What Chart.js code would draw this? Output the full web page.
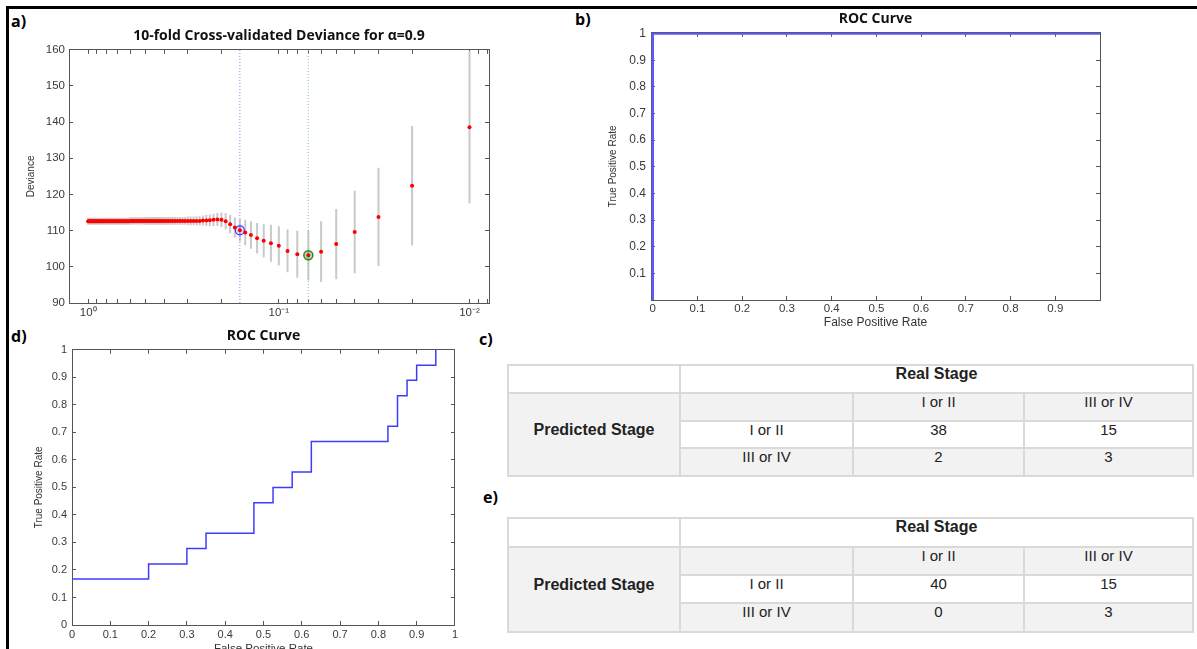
<!DOCTYPE html>
<html>
<head>
<meta charset="utf-8">
<script src="https://cdn.jsdelivr.net/npm/chart.js@4.4.1/dist/chart.umd.min.js"></script>
<style>
  html, body { margin: 0; padding: 0; background: #fff; }
  body { width: 1197px; height: 649px; overflow: hidden; position: relative; font-family: "Liberation Sans", Arial, sans-serif; }
  .frame-top { position: absolute; left: 6px; top: 6px; width: 1191px; height: 3px; background: #000; }
  .frame-left { position: absolute; left: 6px; top: 6px; width: 3px; height: 643px; background: #000; }
  .lbl { position: absolute; font: bold 16px "Open Sans", sans-serif; color: #000; line-height: 22px; }
  canvas { position: absolute; }
  .tbl { position: absolute; display: grid; gap: 2px; padding: 2px; background: #d9d9d9;
         grid-template-columns: 170px 171px 169px 167px; }
  .tbl div { background: #fff; text-align: center; font-size: 15px; line-height: 15px; color: #222; }
  .tbl .g { background: #f2f2f2; }
  .tbl .b { font-weight: bold; font-size: 16px; }
  .tbl .side { display: flex; align-items: center; justify-content: center; padding-bottom: 11px; }
</style>
</head>
<body>
<div class="frame-top"></div>
<div class="frame-left"></div>

<div class="lbl" style="left:11px;top:10px">a)</div>
<div class="lbl" style="left:575px;top:8px">b)</div>
<div class="lbl" style="left:479px;top:328px">c)</div>
<div class="lbl" style="left:11px;top:325px">d)</div>
<div class="lbl" style="left:483px;top:486px">e)</div>

<canvas id="cvChart" width="485" height="296" style="left:10px;top:24px"></canvas>
<canvas id="rocB" width="508" height="322" style="left:598px;top:8px"></canvas>
<canvas id="rocD" width="455" height="338" style="left:10px;top:322px"></canvas>

<div class="tbl" id="tableC" style="left:507px;top:364px;grid-template-rows:26px 26px 25px 26px"></div>
<div class="tbl" id="tableE" style="left:507px;top:517px;grid-template-rows:27px 26px 26px 27px"></div>

<script>
// a) cross-validated deviance, lambda = 0.01 ... 1.00
const lambda = [
  0.01, 0.02, 0.03, 0.04, 0.05, 0.06, 0.07, 0.08, 0.09, 0.10,
  0.11, 0.12, 0.13, 0.14, 0.15, 0.16, 0.17, 0.18, 0.19, 0.20,
  0.21, 0.22, 0.23, 0.24, 0.25, 0.26, 0.27, 0.28, 0.29, 0.30,
  0.31, 0.32, 0.33, 0.34, 0.35, 0.36, 0.37, 0.38, 0.39, 0.40,
  0.41, 0.42, 0.43, 0.44, 0.45, 0.46, 0.47, 0.48, 0.49, 0.50,
  0.51, 0.52, 0.53, 0.54, 0.55, 0.56, 0.57, 0.58, 0.59, 0.60,
  0.61, 0.62, 0.63, 0.64, 0.65, 0.66, 0.67, 0.68, 0.69, 0.70,
  0.71, 0.72, 0.73, 0.74, 0.75, 0.76, 0.77, 0.78, 0.79, 0.80,
  0.81, 0.82, 0.83, 0.84, 0.85, 0.86, 0.87, 0.88, 0.89, 0.90,
  0.91, 0.92, 0.93, 0.94, 0.95, 0.96, 0.97, 0.98, 0.99, 1.00
];
const deviance = [
  138.6, 122.4, 113.8, 109.6, 106.3, 104.2, 103.2, 103.5, 104.4, 105.8,
  106.5, 107.2, 107.9, 108.8, 109.5, 110.1, 110.9, 111.8, 112.6, 113.0,
  113.1, 113.0, 112.9, 112.8, 112.8, 112.7, 112.7, 112.7, 112.7, 112.7,
  112.7, 112.7, 112.7, 112.7, 112.7, 112.7, 112.7, 112.7, 112.7, 112.7,
  112.7, 112.7, 112.7, 112.7, 112.7, 112.7, 112.7, 112.7, 112.7, 112.7,
  112.7, 112.7, 112.7, 112.7, 112.7, 112.7, 112.7, 112.7, 112.7, 112.7,
  112.6, 112.6, 112.6, 112.6, 112.6, 112.6, 112.6, 112.6, 112.6, 112.6,
  112.6, 112.6, 112.6, 112.6, 112.6, 112.6, 112.6, 112.6, 112.6, 112.6,
  112.6, 112.6, 112.6, 112.6, 112.6, 112.6, 112.6, 112.6, 112.6, 112.6,
  112.6, 112.6, 112.6, 112.6, 112.6, 112.6, 112.6, 112.6, 112.6, 112.6
];
const stdErr = [
  21.1, 16.5, 13.6, 11.4, 9.7, 8.4, 7.0, 6.5, 5.9, 5.4,
  5.1, 4.6, 4.2, 3.8, 3.5, 3.1, 2.8, 2.5, 2.2, 2.0,
  1.8, 1.7, 1.6, 1.5, 1.4, 1.3, 1.3, 1.2, 1.2, 1.2,
  1.1, 1.1, 1.1, 1.1, 1.1, 1.1, 1.1, 1.1, 1.1, 1.1,
  1.1, 1.1, 1.1, 1.1, 1.1, 1.1, 1.1, 1.1, 1.1, 1.1,
  1.0, 1.0, 1.0, 1.0, 1.0, 1.0, 1.0, 1.0, 1.0, 1.0,
  1.0, 1.0, 1.0, 1.0, 1.0, 1.0, 1.0, 1.0, 1.0, 1.0,
  1.0, 1.0, 1.0, 1.0, 1.0, 1.0, 1.0, 1.0, 1.0, 1.0,
  1.0, 1.0, 1.0, 1.0, 1.0, 1.0, 1.0, 1.0, 1.0, 1.0,
  1.0, 1.0, 1.0, 1.0, 1.0, 1.0, 1.0, 1.0, 1.0, 1.0
];
const lambdaMinDev = 0.07;
const lambda1SE = 0.16;
const devTicks = [90, 100, 110, 120, 130, 140, 150, 160];
const lambdaTicks = [1, 0.9, 0.8, 0.7, 0.6, 0.5, 0.4, 0.3, 0.2,
  0.1, 0.09, 0.08, 0.07, 0.06, 0.05, 0.04, 0.03, 0.02, 0.01, 0.009, 0.008];
const lambdaTickLabels = { '1': '10\u2070', '0.1': '10\u207B\u00B9', '0.01': '10\u207B\u00B2' };

// b) and d) ROC curves
const fprB = [0, 0, 1];
const tprB = [0, 1, 1];
const fprD = [0, 0.2, 0.3, 0.35, 0.475, 0.525, 0.575, 0.625, 0.825, 0.85, 0.875, 0.9, 0.95];
const tprD = [0.167, 0.222, 0.278, 0.333, 0.444, 0.5, 0.556, 0.667, 0.722, 0.833, 0.889, 0.944, 1];
const rocTicksB_x = [0, 0.1, 0.2, 0.3, 0.4, 0.5, 0.6, 0.7, 0.8, 0.9];
const rocTicksB_y = [0.1, 0.2, 0.3, 0.4, 0.5, 0.6, 0.7, 0.8, 0.9, 1];
const rocTicksD = [0, 0.1, 0.2, 0.3, 0.4, 0.5, 0.6, 0.7, 0.8, 0.9, 1];

// c) and e) confusion tables
const stages = ['I or II', 'III or IV'];
const confusionC = [[38, 15], [2, 3]];
const confusionE = [[40, 15], [0, 3]];

const axisColor = '#555';
const tickColor = '#3a3a3a';
const fontFamily = '"Liberation Sans", Arial, sans-serif';

function setTicks(list) {
  return scale => { scale.ticks = list.map(v => ({ value: v })); };
}
function rocLabel(v) { return String(Math.round(v * 10) / 10); }

// axis with inward tick marks (MATLAB box style)
function boxAxis(pos, size, ticks, extra) {
  const horizontal = pos === 'top' || pos === 'bottom';
  const ax = {
    position: pos,
    afterBuildTicks: setTicks(ticks),
    afterFit: s => { if (horizontal) s.height = size; else s.width = size; },
    grid: { drawOnChartArea: false, tickLength: -4, color: axisColor },
    border: { color: axisColor },
    ticks: { display: false, autoSkip: false, maxRotation: 0 }
  };
  return Object.assign(ax, extra);
}

const baseOptions = {
  responsive: false,
  animation: false,
  events: [],
  plugins: { legend: { display: false }, tooltip: { enabled: false } }
};

// ---- a) deviance ----
const errorBars = [];
lambda.forEach((l, i) => {
  errorBars.push({ x: l, y: deviance[i] - stdErr[i] });
  errorBars.push({ x: l, y: deviance[i] + stdErr[i] });
  errorBars.push({ x: l, y: null });
});
const iMin = lambda.indexOf(lambdaMinDev);
const i1SE = lambda.indexOf(lambda1SE);
const logScale = { type: 'logarithmic', reverse: true, min: 0.0079, max: 1.26 };
const smallFont = { family: fontFamily, size: 11.5 };

new Chart(document.getElementById('cvChart'), {
  type: 'scatter',
  data: {
    datasets: [
      { data: lambda.map((l, i) => ({ x: l, y: deviance[i] })), backgroundColor: '#ff0000', borderWidth: 0, pointRadius: 2 },
      { data: [{ x: lambdaMinDev, y: deviance[iMin] }], pointRadius: 4.5, borderColor: '#2a8a2a', borderWidth: 1.5, backgroundColor: 'rgba(40,150,40,0.35)' },
      { data: [{ x: lambda1SE, y: deviance[i1SE] }], pointRadius: 4.5, borderColor: '#3a3aff', borderWidth: 1.2, backgroundColor: 'rgba(60,60,255,0.15)' },
      { data: [{ x: lambdaMinDev, y: 90 }, { x: lambdaMinDev, y: 160 }], showLine: true, pointRadius: 0, borderColor: '#7fd67f', borderWidth: 1, borderDash: [1, 2] },
      { data: [{ x: lambda1SE, y: 90 }, { x: lambda1SE, y: 160 }], showLine: true, pointRadius: 0, borderColor: '#8c8cff', borderWidth: 1, borderDash: [1, 2] },
      { data: errorBars, showLine: true, spanGaps: false, pointRadius: 0, borderColor: '#c9c9c9', borderWidth: 2 }
    ]
  },
  options: {
    ...baseOptions,
    plugins: {
      ...baseOptions.plugins,
      title: {
        display: true, fullSize: false,
        text: '10-fold Cross-validated Deviance for \u03B1=0.9',
        color: '#111', font: { family: '"Open Sans", sans-serif', size: 14, weight: 'bold' },
        padding: { top: 4, bottom: 5 }
      }
    },
    scales: {
      x: boxAxis('bottom', 17, lambdaTicks, {
        ...logScale,
        ticks: { display: true, autoSkip: false, maxRotation: 0, padding: 7, color: tickColor, font: smallFont,
                 callback: v => lambdaTickLabels[String(+v.toPrecision(3))] || '' }
      }),
      xT: boxAxis('top', 0, lambdaTicks, { ...logScale }),
      y: boxAxis('left', 59, devTicks, {
        min: 90, max: 160,
        ticks: { display: true, autoSkip: false, padding: 8, color: tickColor, font: smallFont },
        title: { display: true, text: 'Deviance', color: '#333', font: { family: fontFamily, size: 10 }, padding: { top: 15.7 } }
      }),
      yR: boxAxis('right', 5, devTicks, { min: 90, max: 160 })
    }
  }
});

// ---- ROC charts ----
function rocChart(id, fpr, tpr, cfg) {
  new Chart(document.getElementById(id), {
    type: 'scatter',
    data: {
      datasets: [{
        data: fpr.map((x, i) => ({ x: x, y: tpr[i] })),
        showLine: true, stepped: cfg.stepped, pointRadius: 0,
        borderColor: cfg.lineColor, borderWidth: cfg.lineWidth
      }]
    },
    options: {
      ...baseOptions,
      plugins: {
        ...baseOptions.plugins,
        title: {
          display: true, fullSize: false, text: 'ROC Curve', color: '#111',
          font: { family: '"Open Sans", sans-serif', size: 14, weight: 'bold' },
          padding: cfg.titlePad
        }
      },
      scales: {
        x: boxAxis('bottom', cfg.bottom, cfg.xTicks, {
          min: cfg.xMin, max: 1,
          ticks: { display: true, autoSkip: false, maxRotation: 0, padding: cfg.xPad, color: tickColor,
                   font: { family: fontFamily, size: cfg.xFont }, callback: rocLabel },
          title: { display: true, text: 'False Positive Rate', color: '#333',
                   font: { family: fontFamily, size: cfg.xTitleFont }, padding: { top: 0, bottom: cfg.xTitlePad } }
        }),
        xT: boxAxis('top', 0, cfg.xTicks, { min: cfg.xMin, max: 1 }),
        y: boxAxis('left', cfg.left, cfg.yTicks, {
          min: 0, max: cfg.yMax,
          ticks: { display: true, autoSkip: false, padding: 9, color: tickColor,
                   font: { family: fontFamily, size: cfg.yFont }, callback: rocLabel },
          title: { display: true, text: 'True Positive Rate', color: '#333',
                   font: { family: fontFamily, size: 10 }, padding: { top: cfg.yTitlePad } }
        }),
        yR: boxAxis('right', 6, cfg.yTicks, { min: 0, max: cfg.yMax })
      }
    }
  });
}

rocChart('rocB', fprB, tprB, {
  stepped: false, lineColor: '#5a5aff', lineWidth: 2.5, xMin: -0.004, yMax: 1.003,
  titlePad: { top: 3, bottom: 5 }, bottom: 30, left: 53,
  xTicks: rocTicksB_x, yTicks: rocTicksB_y,
  xPad: 6, xFont: 11.5, yFont: 12, xTitleFont: 12, xTitlePad: 0, yTitlePad: 9
});
rocChart('rocD', fprD, tprD, {
  stepped: true, lineColor: '#3c3cff', lineWidth: 1.5, xMin: 0, yMax: 1,
  titlePad: { top: 6, bottom: 5 }, bottom: 35, left: 62,
  xTicks: rocTicksD, yTicks: rocTicksD,
  xPad: 7, xFont: 11, yFont: 11, xTitleFont: 11.5, xTitlePad: 4, yTitlePad: 23
});

// ---- confusion tables ----
function buildTable(id, counts) {
  const cells = [];
  cells.push('<div style="grid-column:1;grid-row:1"></div>');
  cells.push('<div class="b" style="grid-column:2/5;grid-row:1">Real Stage</div>');
  cells.push('<div class="g b side" style="grid-column:1;grid-row:2/5">Predicted Stage</div>');
  cells.push('<div class="g" style="grid-column:2;grid-row:2"></div>');
  stages.forEach((s, j) => cells.push('<div class="g" style="grid-column:' + (3 + j) + ';grid-row:2">' + s + '</div>'));
  stages.forEach((s, i) => {
    const cls = i === 1 ? 'g' : '';
    cells.push('<div class="' + cls + '" style="grid-column:2;grid-row:' + (3 + i) + '">' + s + '</div>');
    counts[i].forEach((v, j) => cells.push('<div class="' + cls + '" style="grid-column:' + (3 + j) + ';grid-row:' + (3 + i) + '">' + v + '</div>'));
  });
  document.getElementById(id).innerHTML = cells.join('');
}
buildTable('tableC', confusionC);
buildTable('tableE', confusionE);
</script>
</body>
</html>
